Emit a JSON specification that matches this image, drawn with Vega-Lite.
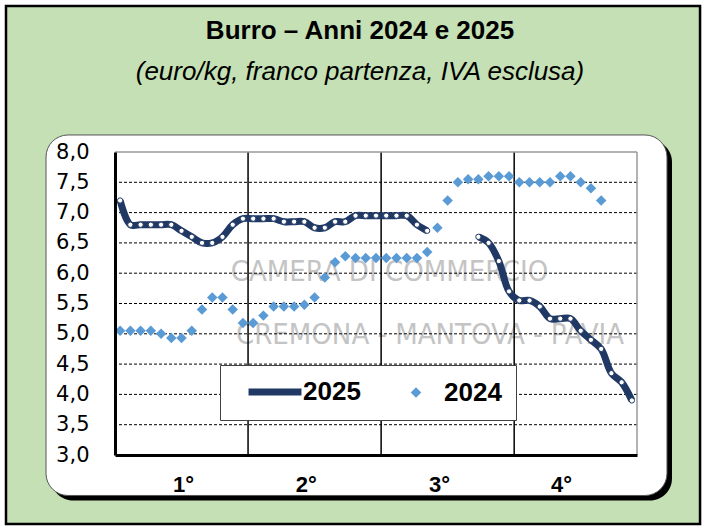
{
  "$schema": "https://vega.github.io/schema/vega-lite/v6.json",
  "width": 522,
  "height": 303,
  "autosize": {"type": "none"},
  "padding": {"left": 115, "top": 152, "right": 69, "bottom": 75},
  "background": "white",
  "config": {
    "view": {"stroke": null},
    "axisY": {"labelOverlap": false},
    "axisX": {"labelOverlap": false}
  },
  "title": {
    "text": "Burro – Anni 2024 e 2025",
    "subtitle": "(euro/kg, franco partenza, IVA esclusa)",
    "anchor": "middle",
    "dx": -16,
    "dy": 80,
    "offset": 0,
    "font": "Liberation Sans",
    "fontSize": 26,
    "fontWeight": "bold",
    "color": "black",
    "subtitleFont": "Liberation Sans",
    "subtitleFontSize": 26,
    "subtitleFontStyle": "italic",
    "subtitleColor": "black",
    "subtitlePadding": 15
  },
  "datasets": {
    "prezzi": [
      {"settimana": 1, "anno": "2025", "prezzo": 7.2},
      {"settimana": 2, "anno": "2025", "prezzo": 6.8},
      {"settimana": 3, "anno": "2025", "prezzo": 6.8},
      {"settimana": 4, "anno": "2025", "prezzo": 6.8},
      {"settimana": 5, "anno": "2025", "prezzo": 6.8},
      {"settimana": 6, "anno": "2025", "prezzo": 6.8},
      {"settimana": 7, "anno": "2025", "prezzo": 6.7},
      {"settimana": 8, "anno": "2025", "prezzo": 6.6},
      {"settimana": 9, "anno": "2025", "prezzo": 6.5},
      {"settimana": 10, "anno": "2025", "prezzo": 6.5},
      {"settimana": 11, "anno": "2025", "prezzo": 6.6},
      {"settimana": 12, "anno": "2025", "prezzo": 6.8},
      {"settimana": 13, "anno": "2025", "prezzo": 6.9},
      {"settimana": 14, "anno": "2025", "prezzo": 6.9},
      {"settimana": 15, "anno": "2025", "prezzo": 6.9},
      {"settimana": 16, "anno": "2025", "prezzo": 6.9},
      {"settimana": 17, "anno": "2025", "prezzo": 6.85},
      {"settimana": 18, "anno": "2025", "prezzo": 6.85},
      {"settimana": 19, "anno": "2025", "prezzo": 6.85},
      {"settimana": 20, "anno": "2025", "prezzo": 6.75},
      {"settimana": 21, "anno": "2025", "prezzo": 6.75},
      {"settimana": 22, "anno": "2025", "prezzo": 6.85},
      {"settimana": 23, "anno": "2025", "prezzo": 6.85},
      {"settimana": 24, "anno": "2025", "prezzo": 6.95},
      {"settimana": 25, "anno": "2025", "prezzo": 6.95},
      {"settimana": 26, "anno": "2025", "prezzo": 6.95},
      {"settimana": 27, "anno": "2025", "prezzo": 6.95},
      {"settimana": 28, "anno": "2025", "prezzo": 6.95},
      {"settimana": 29, "anno": "2025", "prezzo": 6.95},
      {"settimana": 30, "anno": "2025", "prezzo": 6.8},
      {"settimana": 31, "anno": "2025", "prezzo": 6.7},
      {"settimana": 32, "anno": "2025", "prezzo": null},
      {"settimana": 33, "anno": "2025", "prezzo": null},
      {"settimana": 34, "anno": "2025", "prezzo": null},
      {"settimana": 35, "anno": "2025", "prezzo": null},
      {"settimana": 36, "anno": "2025", "prezzo": 6.6},
      {"settimana": 37, "anno": "2025", "prezzo": 6.5},
      {"settimana": 38, "anno": "2025", "prezzo": 6.2},
      {"settimana": 39, "anno": "2025", "prezzo": 5.7},
      {"settimana": 40, "anno": "2025", "prezzo": 5.55},
      {"settimana": 41, "anno": "2025", "prezzo": 5.55},
      {"settimana": 42, "anno": "2025", "prezzo": 5.45},
      {"settimana": 43, "anno": "2025", "prezzo": 5.25},
      {"settimana": 44, "anno": "2025", "prezzo": 5.25},
      {"settimana": 45, "anno": "2025", "prezzo": 5.25},
      {"settimana": 46, "anno": "2025", "prezzo": 5.05},
      {"settimana": 47, "anno": "2025", "prezzo": 4.9},
      {"settimana": 48, "anno": "2025", "prezzo": 4.75},
      {"settimana": 49, "anno": "2025", "prezzo": 4.35},
      {"settimana": 50, "anno": "2025", "prezzo": 4.2},
      {"settimana": 51, "anno": "2025", "prezzo": 3.9},
      {"settimana": 1, "anno": "2024", "prezzo": 5.05},
      {"settimana": 2, "anno": "2024", "prezzo": 5.05},
      {"settimana": 3, "anno": "2024", "prezzo": 5.05},
      {"settimana": 4, "anno": "2024", "prezzo": 5.05},
      {"settimana": 5, "anno": "2024", "prezzo": 5.0},
      {"settimana": 6, "anno": "2024", "prezzo": 4.93},
      {"settimana": 7, "anno": "2024", "prezzo": 4.93},
      {"settimana": 8, "anno": "2024", "prezzo": 5.05},
      {"settimana": 9, "anno": "2024", "prezzo": 5.4},
      {"settimana": 10, "anno": "2024", "prezzo": 5.6},
      {"settimana": 11, "anno": "2024", "prezzo": 5.6},
      {"settimana": 12, "anno": "2024", "prezzo": 5.4},
      {"settimana": 13, "anno": "2024", "prezzo": 5.18},
      {"settimana": 14, "anno": "2024", "prezzo": 5.18},
      {"settimana": 15, "anno": "2024", "prezzo": 5.3},
      {"settimana": 16, "anno": "2024", "prezzo": 5.45},
      {"settimana": 17, "anno": "2024", "prezzo": 5.45},
      {"settimana": 18, "anno": "2024", "prezzo": 5.45},
      {"settimana": 19, "anno": "2024", "prezzo": 5.48},
      {"settimana": 20, "anno": "2024", "prezzo": 5.6},
      {"settimana": 21, "anno": "2024", "prezzo": 5.93},
      {"settimana": 22, "anno": "2024", "prezzo": 6.18},
      {"settimana": 23, "anno": "2024", "prezzo": 6.28},
      {"settimana": 24, "anno": "2024", "prezzo": 6.25},
      {"settimana": 25, "anno": "2024", "prezzo": 6.25},
      {"settimana": 26, "anno": "2024", "prezzo": 6.25},
      {"settimana": 27, "anno": "2024", "prezzo": 6.25},
      {"settimana": 28, "anno": "2024", "prezzo": 6.25},
      {"settimana": 29, "anno": "2024", "prezzo": 6.25},
      {"settimana": 30, "anno": "2024", "prezzo": 6.25},
      {"settimana": 31, "anno": "2024", "prezzo": 6.35},
      {"settimana": 32, "anno": "2024", "prezzo": 6.75},
      {"settimana": 33, "anno": "2024", "prezzo": 7.2},
      {"settimana": 34, "anno": "2024", "prezzo": 7.5},
      {"settimana": 35, "anno": "2024", "prezzo": 7.55},
      {"settimana": 36, "anno": "2024", "prezzo": 7.55},
      {"settimana": 37, "anno": "2024", "prezzo": 7.6},
      {"settimana": 38, "anno": "2024", "prezzo": 7.6},
      {"settimana": 39, "anno": "2024", "prezzo": 7.6},
      {"settimana": 40, "anno": "2024", "prezzo": 7.5},
      {"settimana": 41, "anno": "2024", "prezzo": 7.5},
      {"settimana": 42, "anno": "2024", "prezzo": 7.5},
      {"settimana": 43, "anno": "2024", "prezzo": 7.5},
      {"settimana": 44, "anno": "2024", "prezzo": 7.6},
      {"settimana": 45, "anno": "2024", "prezzo": 7.6},
      {"settimana": 46, "anno": "2024", "prezzo": 7.5},
      {"settimana": 47, "anno": "2024", "prezzo": 7.4},
      {"settimana": 48, "anno": "2024", "prezzo": 7.2}
    ],
    "griglia": [
      {"livello": 3.5}, {"livello": 4.0}, {"livello": 4.5}, {"livello": 5.0},
      {"livello": 5.5}, {"livello": 6.0}, {"livello": 6.5}, {"livello": 7.0}, {"livello": 7.5}
    ],
    "trimestri": [{"confine": 13.5}, {"confine": 26.5}, {"confine": 39.5}]
  },
  "layer": [
    {
      "data": {"values": [{}]},
      "mark": {"type": "rect", "fill": "#c5e0b4", "stroke": "black", "strokeWidth": 2.5},
      "encoding": {
        "x": {"datum": -10.15, "type": "quantitative", "scale": {"domain": [0.5, 51.5], "nice": false, "zero": false}},
        "x2": {"datum": 57.66},
        "y": {"datum": 10.41, "type": "quantitative", "scale": {"domain": [3, 8], "nice": false, "zero": false}},
        "y2": {"datum": 1.861}
      }
    },
    {
      "data": {"values": [{}]},
      "mark": {"type": "rect", "fill": "black", "cornerRadius": 22, "xOffset": 5, "x2Offset": 5, "yOffset": 5, "y2Offset": 5},
      "encoding": {
        "x": {"datum": -6.24, "type": "quantitative"},
        "x2": {"datum": 54.43},
        "y": {"datum": 8.281, "type": "quantitative"},
        "y2": {"datum": 2.332}
      }
    },
    {
      "data": {"values": [{}]},
      "mark": {"type": "rect", "fill": "white", "stroke": "#555555", "strokeWidth": 1, "cornerRadius": 22},
      "encoding": {
        "x": {"datum": -6.24, "type": "quantitative"},
        "x2": {"datum": 54.43},
        "y": {"datum": 8.281, "type": "quantitative"},
        "y2": {"datum": 2.332}
      }
    },
    {
      "data": {"values": [{}]},
      "mark": {"type": "text", "text": "CAMERA DI COMMERCIO", "font": "Liberation Sans Narrow, DejaVu Sans Condensed, Liberation Sans", "fontSize": 29, "color": "#c4c4c4"},
      "encoding": {
        "x": {"datum": 27.32, "type": "quantitative"},
        "y": {"datum": 6.02, "type": "quantitative"}
      }
    },
    {
      "data": {"values": [{}]},
      "mark": {"type": "text", "text": "CREMONA - MANTOVA - PAVIA", "font": "Liberation Sans Narrow, DejaVu Sans Condensed, Liberation Sans", "fontSize": 29, "color": "#c4c4c4"},
      "encoding": {
        "x": {"datum": 31.28, "type": "quantitative"},
        "y": {"datum": 4.98, "type": "quantitative"}
      }
    },
    {
      "data": {"name": "griglia"},
      "mark": {"type": "rule", "color": "black", "strokeWidth": 1, "strokeDash": [3, 2]},
      "encoding": {
        "y": {"field": "livello", "type": "quantitative", "title": null}
      }
    },
    {
      "data": {"name": "trimestri"},
      "mark": {"type": "rule", "color": "black", "strokeWidth": 1.5},
      "encoding": {
        "x": {"field": "confine", "type": "quantitative", "title": null}
      }
    },
    {
      "data": {"values": [{}]},
      "mark": {"type": "rule", "color": "#999999", "strokeWidth": 1.5},
      "encoding": {
        "y": {"datum": 8, "type": "quantitative"}
      }
    },
    {
      "data": {"values": [{}]},
      "mark": {"type": "rule", "color": "#999999", "strokeWidth": 1.5},
      "encoding": {
        "x": {"datum": 51.5, "type": "quantitative"}
      }
    },
    {
      "data": {"name": "prezzi"},
      "transform": [{"filter": "datum.anno == '2025'"}],
      "mark": {"type": "line", "strokeWidth": 7, "interpolate": "catmull-rom", "invalid": "break-paths-show-domains"},
      "encoding": {
        "x": {
          "field": "settimana", "type": "quantitative", "title": null,
          "scale": {"domain": [0.5, 51.5], "nice": false, "zero": false},
          "axis": {
            "title": null, "values": [7.14, 19.13, 32.16, 44.08], "tickCount": 20,
            "labelExpr": "datum.value < 10 ? '1°' : datum.value < 25 ? '2°' : datum.value < 38 ? '3°' : '4°'",
            "ticks": false, "tickSize": 0, "grid": false,
            "domainColor": "black", "domainWidth": 3,
            "labelFont": "Liberation Sans", "labelFontSize": 22, "labelFontWeight": "bold", "labelColor": "black",
            "labelPadding": 19, "labelFlush": false, "labelOverlap": false, "zindex": 1
          }
        },
        "y": {
          "field": "prezzo", "type": "quantitative", "title": null,
          "scale": {"domain": [3, 8], "nice": false, "zero": false},
          "axis": {
            "title": null, "values": [3, 3.5, 4, 4.5, 5, 5.5, 6, 6.5, 7, 7.5, 8], "tickCount": 20,
            "labelExpr": "replace(format(datum.value, '.1f'), '.', ',')",
            "ticks": false, "tickSize": 0, "grid": false,
            "domainColor": "black", "domainWidth": 3,
            "labelFont": "DejaVu Sans", "labelFontSize": 21, "labelColor": "black",
            "labelPadding": 26, "labelFlush": false, "labelOverlap": false, "zindex": 1
          }
        },
        "color": {
          "field": "anno", "type": "nominal", "title": null,
          "scale": {"domain": ["2025", "2024"], "range": ["#1f3864", "#5b9bd5"]},
          "legend": {
            "title": null, "orient": "none", "legendX": 105, "legendY": 213, "direction": "horizontal",
            "fillColor": "white", "strokeColor": "#404040", "padding": 14,
            "symbolSize": 2500, "symbolStrokeWidth": 7, "symbolOffset": 28,
            "labelOffset": 15, "columnPadding": 14,
            "labelFont": "Liberation Sans", "labelFontSize": 26, "labelFontWeight": "bold", "labelColor": "black",
            "encode": {
              "symbols": {
                "update": {
                  "shape": {"signal": "datum.value === '2025' ? 'stroke' : 'diamond'"},
                  "size": {"signal": "datum.value === '2025' ? 2800 : 110"},
                  "stroke": {"signal": "datum.value === '2025' ? '#1f3864' : '#5b9bd5'"},
                  "strokeWidth": {"signal": "datum.value === '2025' ? 7 : 0"},
                  "fill": {"signal": "datum.value === '2025' ? 'transparent' : '#5b9bd5'"},
                  "opacity": {"value": 1}
                }
              }
            }
          }
        }
      }
    },
    {
      "data": {"name": "prezzi"},
      "transform": [{"filter": "datum.anno == '2025' && datum.prezzo != null"}],
      "mark": {"type": "point", "shape": "circle", "filled": true, "fill": "white", "stroke": "#1f3864", "strokeWidth": 1, "size": 28, "opacity": 1},
      "encoding": {
        "x": {"field": "settimana", "type": "quantitative", "title": null},
        "y": {"field": "prezzo", "type": "quantitative", "title": null}
      }
    },
    {
      "data": {"name": "prezzi"},
      "transform": [{"filter": "datum.anno == '2024'"}],
      "mark": {"type": "point", "shape": "diamond", "filled": true, "size": 110, "opacity": 1},
      "encoding": {
        "x": {"field": "settimana", "type": "quantitative", "title": null},
        "y": {"field": "prezzo", "type": "quantitative", "title": null},
        "color": {"field": "anno", "type": "nominal", "title": null}
      }
    }
  ]
}
